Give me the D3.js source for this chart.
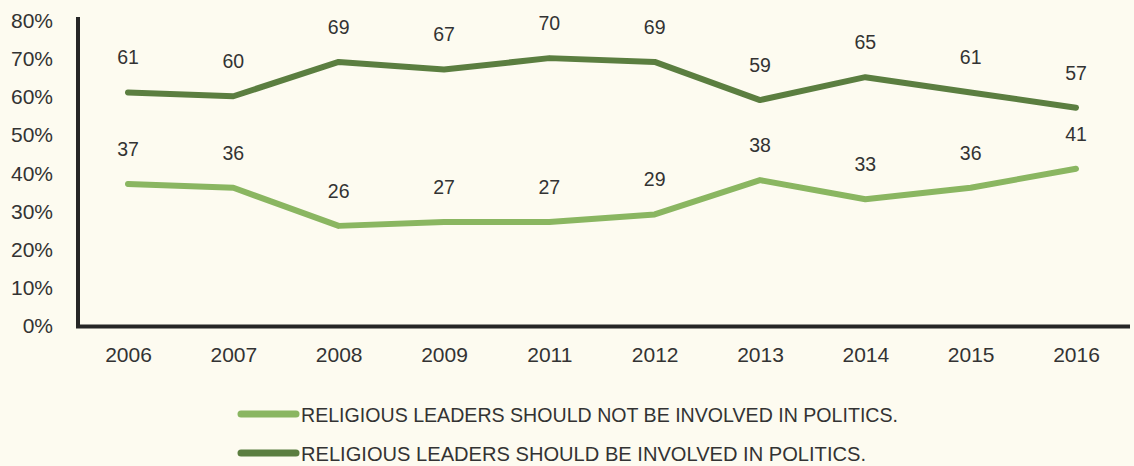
<!DOCTYPE html>
<html><head><meta charset="utf-8">
<script src="https://cdn.jsdelivr.net/npm/d3@7"></script>
<style>
html,body{margin:0;padding:0;background:#fdfbf0;}
svg{display:block;}
</style></head>
<body>
<svg id="chart" width="1134" height="466"></svg>
<script>
const years = ["2006","2007","2008","2009","2011","2012","2013","2014","2015","2016"];
const notInvolved = [37,36,26,27,27,29,38,33,36,41];
const involved = [61,60,69,67,70,69,59,65,61,57];
const yTicks = [0,10,20,30,40,50,60,70,80];
const seriesNames = ["RELIGIOUS LEADERS SHOULD NOT BE INVOLVED IN POLITICS.","RELIGIOUS LEADERS SHOULD BE INVOLVED IN POLITICS."];
const colors = ["#8ab661","#5b7e40"];

const svg = d3.select("#chart");
svg.append("rect").attr("width",1134).attr("height",466).attr("fill","#fdfbf0");

const x = d3.scalePoint().domain(years).range([128,1076]);
const y = d3.scaleLinear().domain([0,80]).range([325,20]);

const font = "'Liberation Sans', Arial, sans-serif";

// y tick labels
const yAxis = d3.axisLeft(y).tickValues(yTicks).tickFormat(d=>d+"%").tickSize(0).tickPadding(0);
const gy = svg.append("g").attr("transform","translate(53,0)").call(yAxis);
gy.select(".domain").remove();
gy.selectAll("text").attr("font-family",font).attr("font-size",21).attr("fill","#333").attr("dy","0.36em");

// x tick labels
const xAxis = d3.axisBottom(x).tickSize(0).tickPadding(0);
const gx = svg.append("g").attr("transform","translate(0,347)").call(xAxis);
gx.select(".domain").remove();
gx.selectAll("text").attr("font-family",font).attr("font-size",21).attr("fill","#333").attr("dy","0.72em");

// axes lines
svg.append("line").attr("x1",78).attr("x2",78).attr("y1",17).attr("y2",328)
  .attr("stroke","#262626").attr("stroke-width",4);
svg.append("line").attr("x1",76).attr("x2",1130).attr("y1",326.5).attr("y2",326.5)
  .attr("stroke","#262626").attr("stroke-width",4);

const series = [notInvolved, involved];
const line = d3.line().x((d,i)=>x(years[i])).y(d=>y(d));
series.forEach((s,k)=>{
  svg.append("path").datum(s).attr("d",line).attr("fill","none")
    .attr("stroke",colors[k]).attr("stroke-width",6)
    .attr("stroke-linejoin","round").attr("stroke-linecap","round");
  svg.append("g").selectAll("text").data(s).join("text")
    .attr("x",(d,i)=>x(years[i]))
    .attr("y",d=>y(d)-35)
    .attr("dy","0.35em")
    .attr("text-anchor","middle")
    .attr("font-family",font).attr("font-size",19.5).attr("fill","#333")
    .text(d=>d);
});

// legend
const legY = [414,453];
const legWidths = [597,565];
seriesNames.forEach((n,k)=>{
  svg.append("line").attr("x1",241).attr("x2",296).attr("y1",legY[k]).attr("y2",legY[k])
    .attr("stroke",colors[k]).attr("stroke-width",7).attr("stroke-linecap","round");
  svg.append("text").attr("x",301).attr("y",legY[k]).attr("dy","0.36em")
    .attr("font-family","'Liberation Sans Narrow', 'Liberation Sans', Arial, sans-serif")
    .attr("font-size",21).attr("fill","#333")
    .attr("textLength",legWidths[k]).attr("lengthAdjust","spacingAndGlyphs")
    .text(n);
});
</script>
</body></html>
